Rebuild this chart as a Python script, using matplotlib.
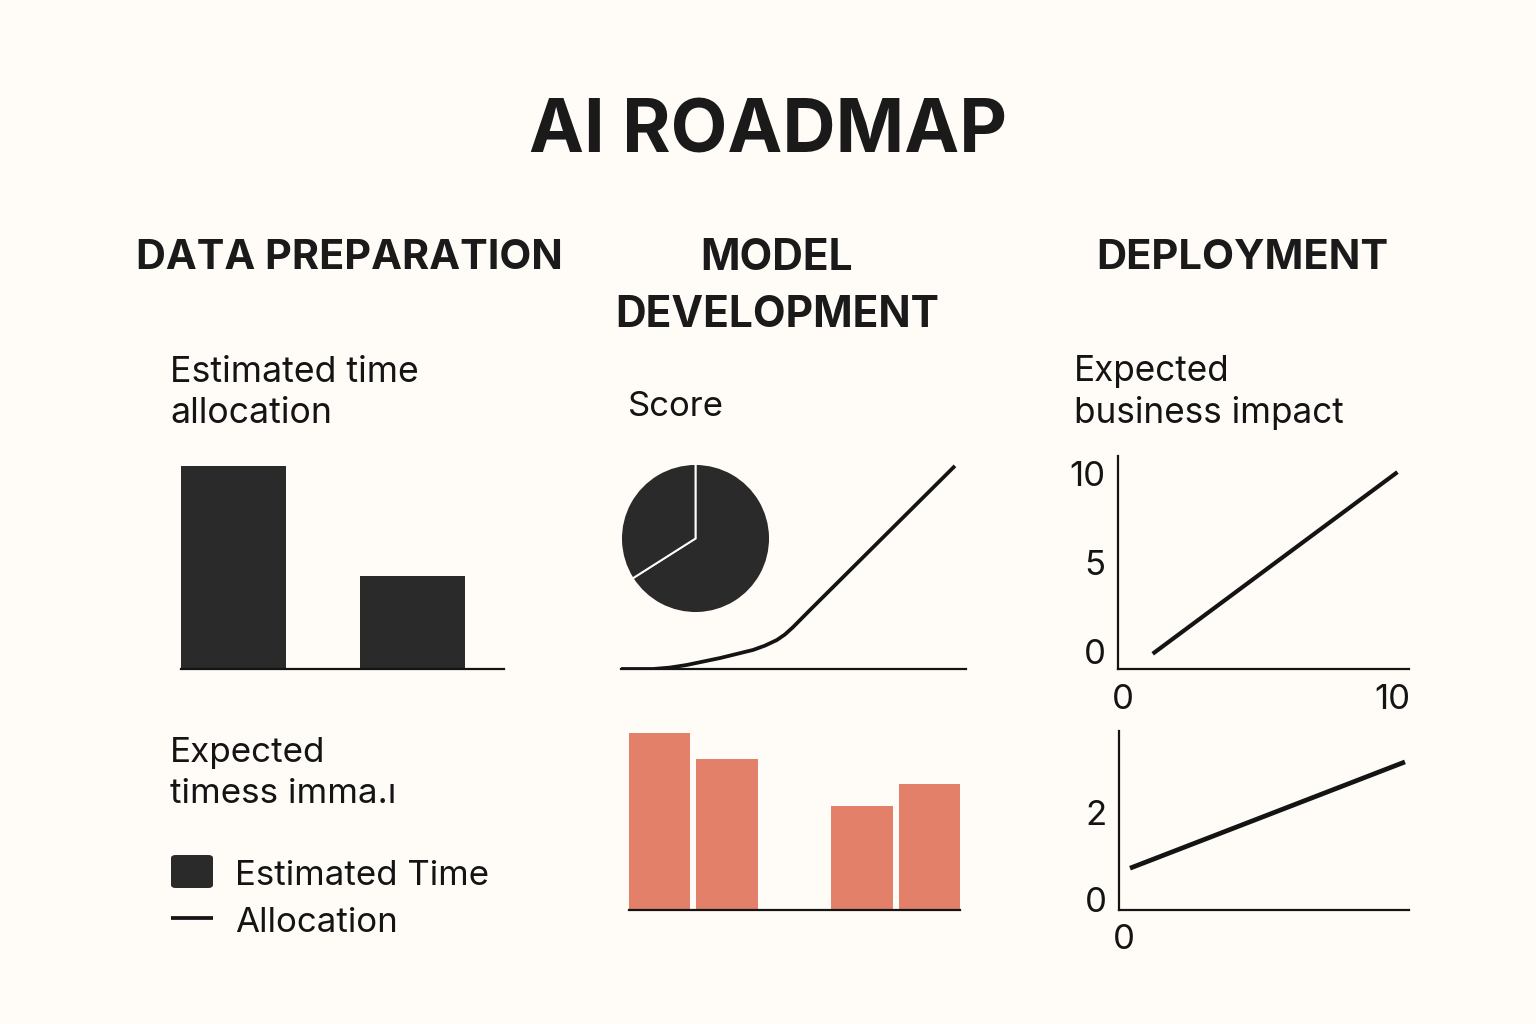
import matplotlib
matplotlib.use("Agg")
import matplotlib.pyplot as plt
from matplotlib.patches import FancyBboxPatch
from matplotlib.lines import Line2D

W, H = 1536, 1024
BG = "#fffcf8"; INK = "#1a1a1a"; SUB = "#141414"; LINE = "#141414"; BAR = "#2a2a2a"; CORAL = "#e28069"
plt.rcParams['font.family'] = ['Inter', 'DejaVu Sans']

title = "AI ROADMAP"
headers = ["DATA PREPARATION", "MODEL\nDEVELOPMENT", "DEPLOYMENT"]
time_values = [203, 93]
score_x = [0, 9.3, 14.2, 19.1, 28.7, 38.3, 41.7, 45.2, 47.5, 49.9, 54.8, 96.8]
score_y = [0, 0, 0.7, 2.0, 5.4, 9.4, 11.5, 14.3, 17, 20.7, 29.1, 100.1]
pie_values = [66, 34]
coral_positions = [0, 1, 3, 4]
coral_values = [177, 151, 104, 126]
impact_x = [1.1, 10.2]
impact_y = [-0.1, 10.05]
impact2_x = [0.22, 10.45]
impact2_y = [0.71, 3.15]

fig = plt.figure(figsize=(W/100, H/100), dpi=100, facecolor=BG)

def ax_px(l, t, r, b):
    return fig.add_axes([l/W, 1-b/H, (r-l)/W, (b-t)/H], facecolor='none')

def txt(x, y, s, size, weight='normal', ha='left', linespacing=1.2, color=SUB):
    fig.text(x/W, 1-y/H, s, fontsize=size, fontweight=weight, ha=ha, va='center',
             color=color, linespacing=linespacing)

def clean(ax, xpad, left=False):
    for s in ax.spines.values():
        s.set_visible(False)
    ax.spines['bottom'].set_visible(True)
    ax.spines['bottom'].set_linewidth(1.6)
    ax.spines['bottom'].set_color(LINE)
    if left:
        ax.spines['left'].set_visible(True)
        ax.spines['left'].set_linewidth(1.6)
        ax.spines['left'].set_color(LINE)
    ax.tick_params(length=0, labelsize=25, labelcolor=SUB, pad=9)
    ax.tick_params(axis='x', pad=xpad)

txt(768, 133, title, 53, 'bold', 'center', color=INK)
txt(349, 258, headers[0], 29.8, 'bold', 'center', color=INK)
txt(777, 287, headers[1], 30.6, 'bold', 'center', 1.5, color=INK)
txt(1242, 258, headers[2], 30, 'bold', 'center', color=INK)
txt(170, 393, "Estimated time\nallocation", 25.7, linespacing=1.34)
txt(628, 407, "Score", 25)
txt(1074, 392.5, "Expected\nbusiness impact", 25.3, linespacing=1.32)
txt(170, 773.5, "Expected\ntimess imma.ı", 25.2, linespacing=1.38)

# time bars
ax = ax_px(181, 460, 504, 669)
clean(ax, 13)
ax.bar([0, 1], time_values, width=0.585, color=BAR, align='edge')
ax.set_xlim(0, 323/179)
ax.set_ylim(0, 209)
ax.set_xticks([]); ax.set_yticks([])

# score curve
ax = ax_px(621, 460, 966, 669)
clean(ax, 13)
ax.plot(score_x, score_y, color=LINE, lw=2.7, solid_capstyle='butt', solid_joinstyle='round')
ax.set_xlim(0, 100)
ax.set_ylim(0, 103)
ax.set_xticks([]); ax.set_yticks([])

# pie
ax = ax_px(621, 464, 770, 613)
ax.pie(pie_values, startangle=90, counterclock=False, colors=[BAR, BAR],
       wedgeprops=dict(edgecolor=BG, linewidth=1.4), radius=1.0)
ax.set_xlim(-1, 1); ax.set_ylim(-1, 1)

# coral bars
ax = ax_px(629, 725, 960, 910)
clean(ax, 13)
ax.bar(coral_positions, coral_values, width=0.905, color=CORAL, align='edge')
ax.set_xlim(0, 4.905)
ax.set_ylim(0, 185)
ax.set_xticks([]); ax.set_yticks([])

# impact 1
ax = ax_px(1118, 456, 1409, 669)
clean(ax, 11, True)
ax.plot(impact_x, impact_y, color=LINE, lw=3.0, solid_capstyle='butt')
ax.set_xlim(-0.19, 10.63)
ax.set_ylim(-0.95, 10.95)
ax.set_xticks([0, 10]); ax.set_xticklabels(["0", "10"])
ax.set_yticks([0, 5, 10])

# impact 2
ax = ax_px(1119, 731, 1409, 910)
clean(ax, 10, True)
ax.plot(impact2_x, impact2_y, color=LINE, lw=3.4, solid_capstyle='butt')
ax.set_xlim(-0.19, 10.6)
ax.set_ylim(-0.25, 3.86)
ax.set_xticks([0]); ax.set_yticks([0, 2])

# legend
box = FancyBboxPatch((171/W, 1-888/H), 42/W, 33/H, transform=fig.transFigure,
                     boxstyle="round,pad=0,rounding_size=0.003", fc=BAR, ec='none')
fig.add_artist(box)
fig.add_artist(Line2D([171/W, 213/W], [1-918/H, 1-918/H], color=LINE, lw=2.7, solid_capstyle='butt'))
txt(235, 876, "Estimated Time", 25.1)
txt(235, 923, "Allocation", 25.1)

fig.savefig("out.png", dpi=100, facecolor=BG)
